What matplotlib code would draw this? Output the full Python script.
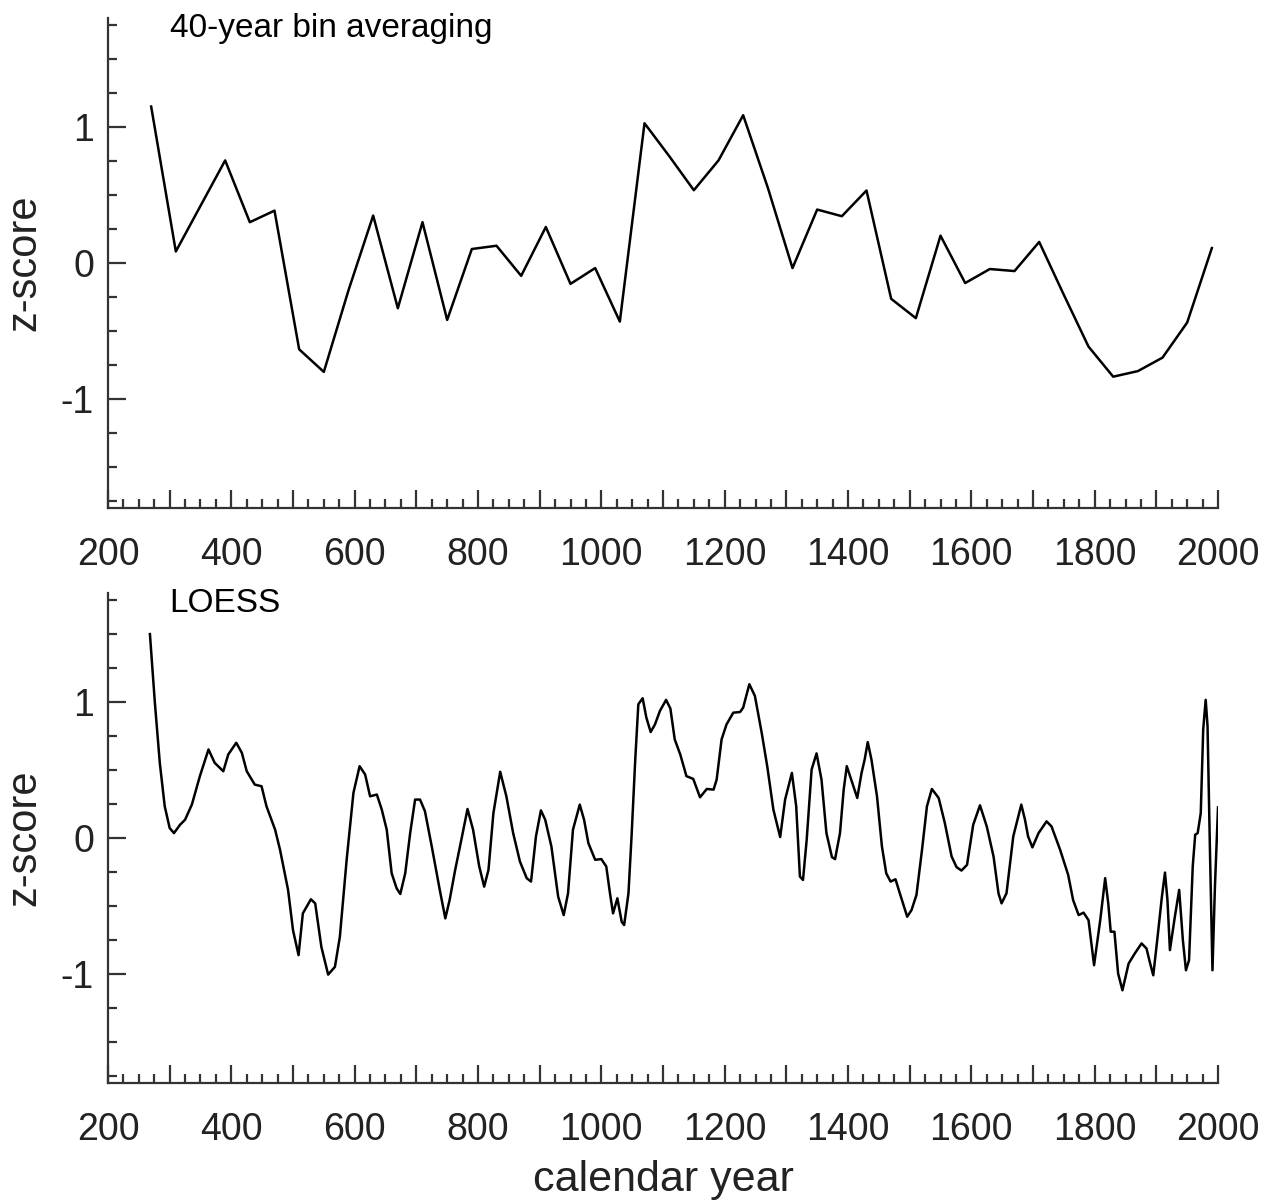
import numpy as np
import matplotlib
matplotlib.use('Agg')
import matplotlib.pyplot as plt
from matplotlib.ticker import MultipleLocator, FuncFormatter

plt.rcParams['font.family'] = ['Liberation Sans', 'DejaVu Sans']
plt.rcParams['axes.unicode_minus'] = False

# 40-year bin averages (bin centres, z-score)
bin_years = [270, 310, 350, 390, 430, 470, 510, 550, 590, 630,
             670, 710, 750, 790, 830, 870, 910, 950, 990, 1030,
             1070, 1110, 1150, 1190, 1230, 1270, 1310, 1350, 1390, 1430,
             1470, 1510, 1550, 1590, 1630, 1670, 1710, 1750, 1790, 1830,
             1870, 1910, 1950, 1990]
bin_z = [1.15, 0.085, 0.42, 0.754, 0.30, 0.385, -0.634, -0.80, -0.20, 0.349,
         -0.332, 0.30, -0.418, 0.103, 0.127, -0.094, 0.265, -0.153, -0.037, -0.43,
         1.027, 0.786, 0.535, 0.754, 1.086, 0.553, -0.037, 0.393, 0.344, 0.533,
         -0.263, -0.405, 0.201, -0.147, -0.044, -0.059, 0.155, -0.234, -0.614, -0.835,
         -0.794, -0.695, -0.437, 0.11]

# LOESS curve
loess_years = [268, 276, 284, 292, 300, 307, 317, 325, 336, 349,
               363, 373, 387, 395, 408, 417, 425, 438, 449, 457,
               471, 479, 492, 500, 509, 516, 529, 536, 546, 557,
               568, 576, 587, 598, 608, 617, 625, 636, 644, 652,
               660, 668, 674, 682, 690, 698, 706, 714, 725, 738,
               747, 754, 763, 773, 783, 792, 802, 810, 817, 825,
               836, 846, 857, 868, 879, 886, 894, 902, 909, 919,
               930, 939, 946, 954, 965, 972, 979, 990, 1000, 1008,
               1014, 1019, 1026, 1033, 1037, 1044, 1049, 1055, 1060, 1067,
               1073, 1080, 1087, 1095, 1105, 1112, 1119, 1128, 1138, 1149,
               1160, 1171, 1182, 1187, 1195, 1203, 1214, 1225, 1230, 1240,
               1249, 1260, 1269, 1279, 1290, 1298, 1309, 1316, 1322, 1327,
               1333, 1341, 1349, 1357, 1365, 1374, 1379, 1387, 1393, 1398,
               1406, 1415, 1422, 1427, 1432, 1438, 1447, 1455, 1462, 1469,
               1477, 1484, 1496, 1503, 1511, 1520, 1528, 1536, 1547, 1557,
               1568, 1576, 1584, 1593, 1603, 1614, 1625, 1636, 1644, 1649,
               1657, 1668, 1681, 1687, 1692, 1699, 1709, 1722, 1730, 1744,
               1757, 1765, 1774, 1782, 1790, 1799, 1809, 1817, 1822, 1826,
               1832, 1838, 1845, 1855, 1865, 1876, 1884, 1890, 1895, 1902,
               1909, 1914, 1918, 1922, 1930, 1937, 1943, 1948, 1953, 1959,
               1963, 1967, 1972, 1976, 1980, 1983, 1987, 1991, 1995, 2000]
loess_z = [1.498, 0.995, 0.553, 0.234, 0.074, 0.037, 0.099, 0.135, 0.246, 0.455,
           0.651, 0.553, 0.491, 0.614, 0.700, 0.627, 0.491, 0.393, 0.381, 0.234,
           0.062, -0.086, -0.380, -0.675, -0.859, -0.552, -0.449, -0.479, -0.798, -1.002,
           -0.945, -0.724, -0.159, 0.332, 0.528, 0.467, 0.307, 0.320, 0.209, 0.062,
           -0.258, -0.368, -0.410, -0.258, 0.037, 0.283, 0.283, 0.197, -0.061, -0.380,
           -0.589, -0.454, -0.233, -0.012, 0.214, 0.062, -0.208, -0.356, -0.233, 0.184,
           0.487, 0.307, 0.037, -0.172, -0.294, -0.319, 0.013, 0.204, 0.135, -0.061,
           -0.430, -0.565, -0.405, 0.062, 0.246, 0.135, -0.037, -0.159, -0.154, -0.208,
           -0.405, -0.552, -0.442, -0.614, -0.638, -0.405, 0.013, 0.577, 0.983, 1.027,
           0.885, 0.779, 0.835, 0.934, 1.015, 0.951, 0.725, 0.614, 0.455, 0.435,
           0.300, 0.361, 0.356, 0.430, 0.725, 0.835, 0.921, 0.926, 0.958, 1.130,
           1.044, 0.774, 0.528, 0.209, 0.008, 0.283, 0.479, 0.234, -0.282, -0.307,
           -0.012, 0.504, 0.622, 0.430, 0.037, -0.140, -0.154, 0.037, 0.356, 0.528,
           0.418, 0.295, 0.479, 0.577, 0.705, 0.577, 0.307, -0.061, -0.258, -0.319,
           -0.302, -0.405, -0.577, -0.528, -0.417, -0.086, 0.234, 0.361, 0.295, 0.111,
           -0.135, -0.213, -0.238, -0.196, 0.098, 0.241, 0.086, -0.135, -0.405, -0.479,
           -0.405, 0.013, 0.246, 0.135, 0.013, -0.068, 0.037, 0.123, 0.086, -0.086,
           -0.270, -0.454, -0.565, -0.547, -0.602, -0.933, -0.602, -0.294, -0.479, -0.687,
           -0.687, -0.994, -1.117, -0.921, -0.847, -0.773, -0.810, -0.921, -1.007, -0.724,
           -0.430, -0.253, -0.454, -0.822, -0.577, -0.380, -0.749, -0.970, -0.896, -0.208,
           0.025, 0.037, 0.184, 0.799, 1.015, 0.823, -0.110, -0.970, -0.356, 0.226]

panels = [
    (bin_years, bin_z, '40-year bin averaging'),
    (loess_years, loess_z, 'LOESS'),
]

spine_col = '#333333'
fig = plt.figure(figsize=(12.66, 12.03), dpi=100)
boxes = [[0.0853, 0.5777, 0.8768, 0.4073], [0.0853, 0.0995, 0.8768, 0.4076]]

for (x, y, name), box in zip(panels, boxes):
    ax = fig.add_axes(box)
    ax.plot(x, y, color='black', lw=1.8)
    ax.set_xlim(200, 2000)
    ax.set_ylim(-1.8, 1.8)
    ax.spines['top'].set_visible(False)
    ax.spines['right'].set_visible(False)
    for s in ['left', 'bottom']:
        ax.spines[s].set_color(spine_col)
        ax.spines[s].set_linewidth(1.6)
    ax.xaxis.set_major_locator(MultipleLocator(100))
    ax.xaxis.set_minor_locator(MultipleLocator(25))
    ax.xaxis.set_major_formatter(FuncFormatter(
        lambda v, p: '%d' % v if round(v) % 200 == 0 else ''))
    ax.yaxis.set_major_locator(MultipleLocator(1))
    ax.yaxis.set_minor_locator(MultipleLocator(0.25))
    ax.yaxis.set_major_formatter(FuncFormatter(lambda v, p: '%d' % round(v)))
    ax.tick_params(which='both', direction='in', color=spine_col, width=1.6,
                   labelsize=27, labelcolor='#222222')
    ax.tick_params(which='major', length=13)
    ax.tick_params(which='minor', length=6.5)
    ax.tick_params(axis='x', which='major', pad=21)
    ax.tick_params(axis='y', which='major', pad=10)
    ax.set_ylabel('z-score', fontsize=30, color='#222222', labelpad=12)
    ax.text(300, 1.72, name, fontsize=24, va='center', ha='left')

ax.set_xlabel('calendar year', fontsize=31, color='#222222', labelpad=8)

fig.savefig('out.png', dpi=100)
